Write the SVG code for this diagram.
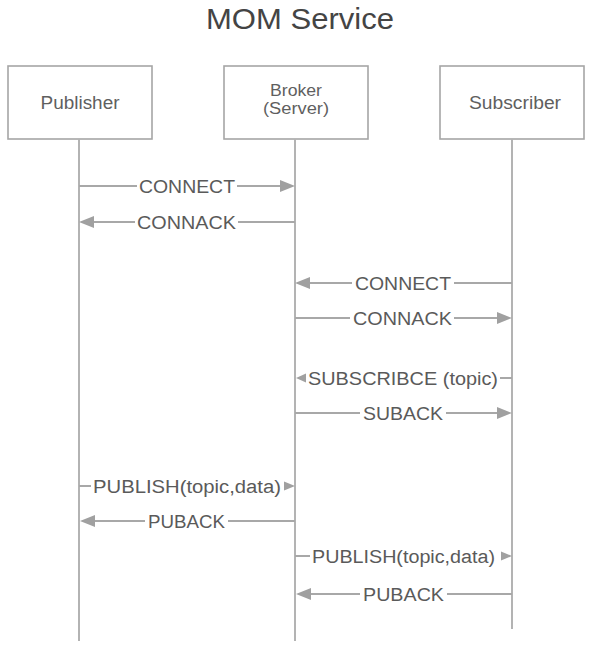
<svg xmlns="http://www.w3.org/2000/svg" width="595" height="647" viewBox="0 0 595 647">
<defs>
<style>
.box{fill:#fff;stroke:#a6a6a6;stroke-width:1.6}
.life{stroke:#b3b3b3;stroke-width:2;fill:none}
.msg{stroke:#a8a8a8;stroke-width:2;fill:none}
.big{marker-end:url(#ah)}
.nt{font-family:"Liberation Sans",Arial,sans-serif;font-size:18px;fill:#5f5f5f;text-anchor:middle}
.nts{font-family:"Liberation Sans",Arial,sans-serif;font-size:16px;fill:#5f5f5f;text-anchor:middle}
.mt{font-family:"Liberation Sans",Arial,sans-serif;font-size:18px;fill:#5a5a5a}
.title{font-family:"Liberation Sans",Arial,sans-serif;font-size:29px;fill:#444;text-anchor:middle}
</style>
<marker id="ah" markerUnits="userSpaceOnUse" markerWidth="16" markerHeight="12" refX="0" refY="6" orient="auto" viewBox="0 0 16 12">
<path d="M0,0 L15,6 L0,12 z" fill="#a0a0a0"/>
</marker>
</defs>
<rect width="595" height="647" fill="#fff"/>
<text class="title" x="300" y="29" textLength="188" lengthAdjust="spacingAndGlyphs">MOM Service</text>

<g id="publisher">
<rect class="box" x="8" y="66" width="144" height="73"/>
<text class="nt" x="80" y="109" textLength="79" lengthAdjust="spacingAndGlyphs">Publisher</text>
<line class="life" x1="79" y1="139" x2="79" y2="641"/>
</g>
<g id="broker">
<rect class="box" x="224" y="66" width="144" height="73"/>
<text class="nts" x="296" y="96" textLength="52" lengthAdjust="spacingAndGlyphs">Broker</text>
<text class="nts" x="296" y="114" textLength="66" lengthAdjust="spacingAndGlyphs">(Server)</text>
<line class="life" x1="295" y1="139" x2="295" y2="641"/>
</g>
<g id="subscriber">
<rect class="box" x="440" y="66" width="144" height="73"/>
<text class="nt" x="515" y="109" textLength="92" lengthAdjust="spacingAndGlyphs">Subscriber</text>
<line class="life" x1="512" y1="139" x2="512" y2="629"/>
</g>

<g id="connectors">
<path class="msg big" d="M79 186 H137 M237 186 H280"/>
<text class="mt" x="139" y="192.5" textLength="96" lengthAdjust="spacingAndGlyphs">CONNECT</text>

<path class="msg big" d="M295 222 H238 M135 222 H94"/>
<text class="mt" x="137" y="228.5" textLength="99" lengthAdjust="spacingAndGlyphs">CONNACK</text>

<path class="msg big" d="M512 283 H454 M352 283 H310"/>
<text class="mt" x="355" y="289.5" textLength="96" lengthAdjust="spacingAndGlyphs">CONNECT</text>

<path class="msg big" d="M295 318 H350 M454 318 H497"/>
<text class="mt" x="353" y="324.5" textLength="99" lengthAdjust="spacingAndGlyphs">CONNACK</text>

<path class="msg" d="M512 378 H500"/>
<polygon points="296,378 306,373.5 306,382.5" fill="#a0a0a0"/>
<text class="mt" x="308" y="384.5" textLength="190" lengthAdjust="spacingAndGlyphs">SUBSCRIBCE (topic)</text>

<path class="msg big" d="M295 413 H360 M446 413 H497"/>
<text class="mt" x="363" y="419.5" textLength="80" lengthAdjust="spacingAndGlyphs">SUBACK</text>

<path class="msg" d="M79 486 H91"/>
<polygon points="295,486 284,481.5 284,490.5" fill="#a0a0a0"/>
<text class="mt" x="93" y="492.5" textLength="188" lengthAdjust="spacingAndGlyphs">PUBLISH(topic,data)</text>

<path class="msg big" d="M295 521 H228 M145 521 H95"/>
<text class="mt" x="148" y="527.5" textLength="77" lengthAdjust="spacingAndGlyphs">PUBACK</text>

<path class="msg" d="M295 556 H310"/>
<polygon points="512,556 501,551.5 501,560.5" fill="#a0a0a0"/>
<text class="mt" x="312" y="562.5" textLength="183" lengthAdjust="spacingAndGlyphs">PUBLISH(topic,data)</text>

<path class="msg big" d="M512 594 H447 M360 594 H311"/>
<text class="mt" x="363" y="600.5" textLength="81" lengthAdjust="spacingAndGlyphs">PUBACK</text>
</g>
</svg>
